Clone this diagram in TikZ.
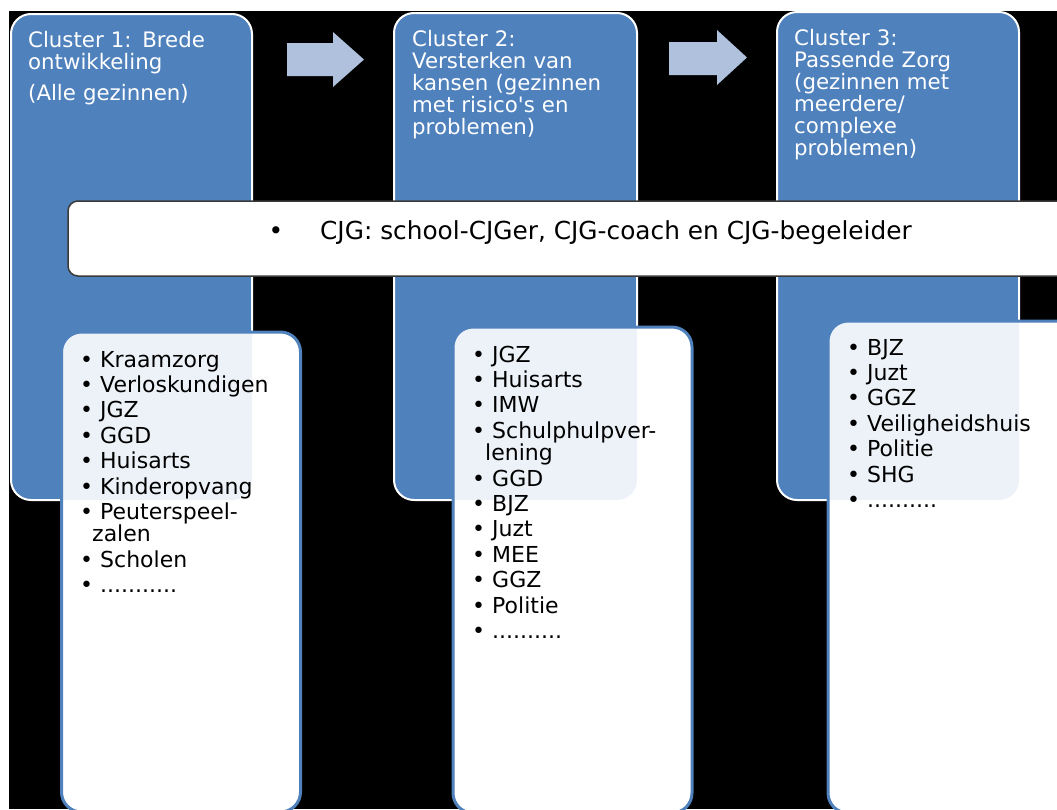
\documentclass[tikz,border=0pt]{standalone}
\usepackage{fontspec}
\setmainfont{DejaVu Sans}[Ligatures=TeXOff]
\definecolor{boxblue}{HTML}{4F81BD}
\definecolor{arrowblue}{HTML}{B0C1DE}
\definecolor{cjgborder}{HTML}{3A3A3A}
\newcommand\itm[1]{\makebox[20pt][l]{•}#1}
\tikzset{
  bluebox/.style={draw=white, line width=2, fill=boxblue, rounded corners=20, inner sep=0, outer sep=0, anchor=north west},
  listbox/.style={draw=boxblue, line width=3, fill=white, rounded corners=20, inner sep=0, outer sep=0, anchor=north west},
  tint/.style={fill=boxblue, fill opacity=0.1, rounded corners=20},
  cjgbox/.style={draw=cjgborder, line width=1.5, fill=white, rounded corners=10, inner sep=0, outer sep=0, anchor=north west},
  blockarrow/.style={fill=arrowblue},
  titletext/.style={text=white, inner sep=0, anchor=base west, text width=225, align=left, font=\fontsize{21.3}{22}\selectfont},
  listtext/.style={text=black, inner sep=0, anchor=base west, text width=225, align=left, font=\fontsize{22}{22.5}\selectfont},
  cjgtext/.style={text=black, inner sep=0, anchor=base west, font=\fontsize{24.8}{26}\selectfont}
}
\begin{document}
\begin{tikzpicture}[x=1pt,y=-1pt]
\useasboundingbox (0,0) rectangle (1057,809);
\fill[white] (0,0) rectangle (1057,809);
\clip (0,0) rectangle (1057,809);
\fill[black] (9,11) rectangle (1057,809);

% blue cluster boxes
\node[bluebox, minimum width=241, minimum height=486] (c1) at (11,14) {};
\node[bluebox, minimum width=243, minimum height=487] (c2) at (394,13) {};
\node[bluebox, minimum width=242, minimum height=488] (c3) at (777,12) {};

% block arrows
\fill[blockarrow] (287,43) -- (333,43) -- (333,32) -- (364,59.5) -- (333,87) -- (333,76) -- (287,76) -- cycle;
\fill[blockarrow] (669,42) -- (717,42) -- (717,30) -- (747,57.5) -- (717,85) -- (717,75) -- (669,75) -- cycle;

% titles
\node[titletext] (t1) at (28,47) {Cluster 1: Brede\\ontwikkeling\\[9pt](Alle gezinnen)};
\node[titletext] (t2) at (412,46.5) {Cluster 2:\\Versterken van\\kansen (gezinnen\\met risico's en\\problemen)};
\node[titletext] (t3) at (794,45) {Cluster 3:\\Passende Zorg\\(gezinnen met\\meerdere/\\complexe\\problemen)};

% CJG band
\node[cjgbox, minimum width=1050, minimum height=75] (cjg) at (68,201) {};
\node[cjgtext] (cjgt) at (268.5,239) {\makebox[51.5pt][l]{•}CJG: school-CJGer, CJG-coach en CJG-begeleider};

% list boxes (opaque white, tinted where they lie over the blue boxes)
\node[listbox, minimum width=239, minimum height=480] (l1) at (61.5,332) {};
\node[listbox, minimum width=239, minimum height=486] (l2) at (453,327) {};
\node[listbox, minimum width=260, minimum height=492] (l3) at (828,321) {};
\begin{scope}
  \clip[rounded corners=20] (l1.north west) rectangle (l1.south east);
  \fill[tint] (c1.north west) rectangle (c1.south east);
\end{scope}
\begin{scope}
  \clip[rounded corners=20] (l2.north west) rectangle (l2.south east);
  \fill[tint] (c2.north west) rectangle (c2.south east);
\end{scope}
\begin{scope}
  \clip[rounded corners=20] (l3.north west) rectangle (l3.south east);
  \fill[tint] (c3.north west) rectangle (c3.south east);
\end{scope}

\node[listtext] (lt1) at (80,367) {\itm{Kraamzorg}\\[2.9pt]
\itm{Verloskundigen}\\[2.9pt]
\itm{JGZ}\\[2.9pt]
\itm{GGD}\\[2.9pt]
\itm{Huisarts}\\[2.9pt]
\itm{Kinderopvang}\\[2.9pt]
\itm{Peuterspeel-}\\
\hspace*{12pt}zalen\\[2.9pt]
\itm{Scholen}\\[2.9pt]
\itm{...........}};

\node[listtext] (lt2) at (472,362) {\itm{JGZ}\\[2.9pt]
\itm{Huisarts}\\[2.9pt]
\itm{IMW}\\[2.9pt]
\itm{Schulphulpver-}\\
\hspace*{13pt}lening\\[2.9pt]
\itm{GGD}\\[2.9pt]
\itm{BJZ}\\[2.9pt]
\itm{Juzt}\\[2.9pt]
\itm{MEE}\\[2.9pt]
\itm{GGZ}\\[2.9pt]
\itm{Politie}\\[2.9pt]
\itm{..........}};

\node[listtext] (lt3) at (847,355) {\itm{BJZ}\\[2.9pt]
\itm{Juzt}\\[2.9pt]
\itm{GGZ}\\[2.9pt]
\itm{Veiligheidshuis}\\[2.9pt]
\itm{Politie}\\[2.9pt]
\itm{SHG}\\[2.9pt]
\itm{..........}};
\end{tikzpicture}
\end{document}
